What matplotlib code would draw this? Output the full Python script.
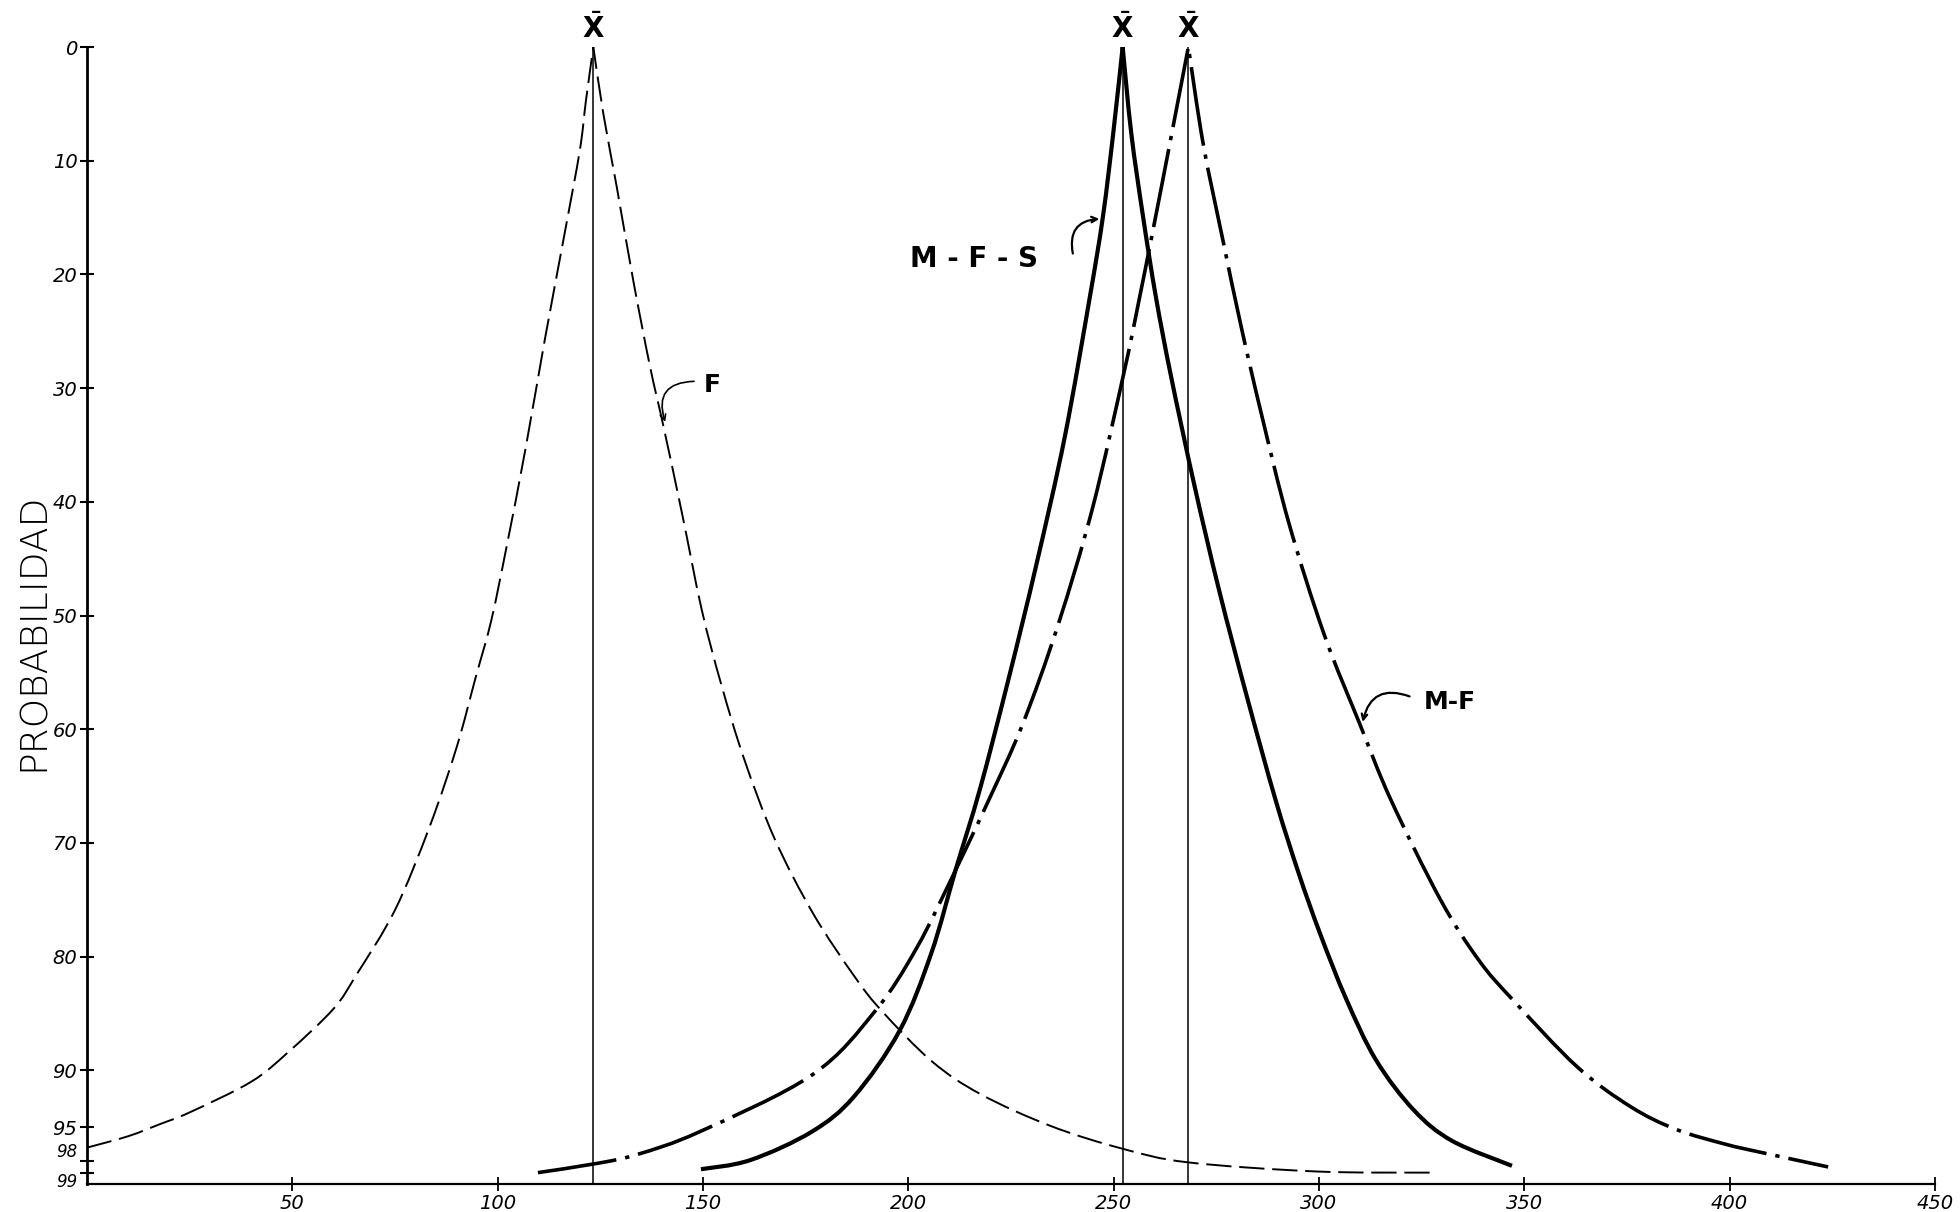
import matplotlib
matplotlib.use("Agg")
import matplotlib.pyplot as plt
from matplotlib.path import Path
from matplotlib.patches import PathPatch

# curve F (dashed): x value, probability
f_x = [0, 10, 18, 25, 40, 49, 60, 65.6, 75, 83.4, 90, 94.6, 98.4, 102.2, 106.8,
       111.5, 116.2, 120, 121.5, 123.3, 125.7, 129, 133, 137.1, 140.4, 145, 149.7,
       154.4, 160, 167.4, 176.8, 187, 193.6, 205.7, 217.6, 234.7, 252.2, 268.2, 299.5, 327]
f_p = [96.8, 95.8, 94.7, 93.7, 91.0, 88.4, 84.6, 81.6, 75.9, 68.6, 61.6, 55.5, 50.5, 43.9, 35.3,
       25.7, 16.6, 9.1, 4.7, 0, 5.8, 12.3, 20.5, 28.1, 33.4, 41.2, 49.5,
       56, 62.6, 69.6, 76.2, 81.8, 84.8, 89.2, 92.1, 94.9, 96.9, 98.1, 98.9, 99.0]

# curve M-F-S (solid)
mfs_x = [149.5, 161.5, 176.5, 186.8, 197.9, 205.6, 211.5, 217.5, 224.4, 231.2, 238.1, 244.2,
         247.4, 249.9, 252.2, 254.3, 257.2, 260.3, 264, 269.7, 275.7, 282.5, 289.5, 295,
         300.3, 306.6, 313.9, 323.1, 332.4, 347]
mfs_p = [98.7, 97.9, 95.4, 92.3, 86.5, 79.7, 72.4, 65.2, 55.6, 45.5, 34.3, 22,
         14.9, 7.6, 0, 7.6, 15, 22, 29, 38.6, 47.8, 57.2, 66.3, 72.6,
         78, 83.7, 89.1, 93.5, 96.2, 98.4]

# curve M-F (dash-dot)
mf_x = [109.8, 124, 134, 149.2, 176.6, 191.9, 202.1, 211.5, 219.5, 227.8, 236.4, 244.9,
        252.6, 256, 259.7, 264, 268.2, 271.8, 276.5, 281, 286, 292.7, 301.3, 309.9,
        317.5, 329.6, 338.9, 347.2, 362.9, 375.9, 387, 399, 407.4, 424]
mf_p = [99.0, 98.2, 97.4, 95.4, 90.4, 84.8, 79.2, 72.4, 66.3, 59.6, 50.9, 40.5,
        28.5, 22.6, 15.9, 7.9, 0, 8.5, 16.8, 24.5, 32.3, 41.9, 51.7, 59.5,
        66.2, 75, 80.3, 83.8, 89.7, 93.2, 95.2, 96.5, 97.2, 98.5]

means = [123.3, 252.2, 268.2]

y_ticks = [0, 10, 20, 30, 40, 50, 60, 70, 80, 90, 95, 98, 99]
x_ticks = [50, 100, 150, 200, 250, 300, 350, 400, 450]


def smooth_path(xs, ys):
    # smooth curve through the read points, each side of the peak on its own
    peak = ys.index(min(ys))
    verts = [(xs[0], ys[0])]
    codes = [Path.MOVETO]
    for lo, hi in [(0, peak), (peak, len(xs) - 1)]:
        pts = list(zip(xs[lo:hi + 1], ys[lo:hi + 1]))
        n = len(pts)
        for i in range(n - 1):
            p0 = pts[max(i - 1, 0)]
            p1 = pts[i]
            p2 = pts[i + 1]
            p3 = pts[min(i + 2, n - 1)]
            c1 = (p1[0] + (p2[0] - p0[0]) / 6, p1[1] + (p2[1] - p0[1]) / 6)
            c2 = (p2[0] - (p3[0] - p1[0]) / 6, p2[1] - (p3[1] - p1[1]) / 6)
            verts += [c1, c2, p2]
            codes += [Path.CURVE4] * 3
    return Path(verts, codes)


fig = plt.figure(figsize=(19.6, 12.12), dpi=100)
ax = fig.add_axes([0.0444, 0.0231, 0.9428, 0.9381])

ax.add_patch(PathPatch(smooth_path(f_x, f_p), fill=False, edgecolor="black",
                       linewidth=1.4, linestyle=(0, (13, 4))))
ax.add_patch(PathPatch(smooth_path(mfs_x, mfs_p), fill=False, edgecolor="black",
                       linewidth=3.0))
ax.add_patch(PathPatch(smooth_path(mf_x, mf_p), fill=False, edgecolor="black",
                       linewidth=2.6, linestyle=(0, (22, 2.5, 1.2, 2.5))))

for m in means:
    ax.vlines(m, 0, 100, color="black", linewidth=1.1)
    ax.text(m, -0.3, r"$\bar{\mathbf{X}}$", ha="center", va="bottom", fontsize=20,
            clip_on=False)

# hand labels with curly arrows
ax.text(150.2, 29.7, "F", fontsize=18, fontweight="semibold", ha="left", va="center")
ax.annotate("", xy=(141, 33.2), xytext=(148.5, 29.4),
            arrowprops=dict(arrowstyle="->", lw=1.2, connectionstyle="arc3,rad=0.7"))
ax.text(200.5, 18.6, "M - F - S", fontsize=20, fontweight="semibold", ha="left", va="center")
ax.annotate("", xy=(247.2, 15.1), xytext=(240.2, 18.4),
            arrowprops=dict(arrowstyle="->", lw=1.6, connectionstyle="arc3,rad=-0.6"))
ax.text(325.5, 57.6, "M-F", fontsize=18, fontweight="semibold", ha="left", va="center")
ax.annotate("", xy=(310.5, 59.6), xytext=(322.7, 57.2),
            arrowprops=dict(arrowstyle="->", lw=1.6, connectionstyle="arc3,rad=0.6"))

ax.set_xlim(0, 450)
ax.set_ylim(100, 0)
ax.spines["top"].set_visible(False)
ax.spines["right"].set_visible(False)
ax.spines["left"].set_linewidth(2.0)
ax.spines["bottom"].set_linewidth(1.6)

ax.set_yticks(y_ticks)
ax.set_yticklabels([str(v) for v in y_ticks], fontsize=14, fontstyle="italic")
for lbl in ax.get_yticklabels():
    if lbl.get_text() == "98":
        lbl.set_fontsize(12)
        lbl.set_va("bottom")
    elif lbl.get_text() == "99":
        lbl.set_fontsize(12)
        lbl.set_va("top")
ax.set_xticks(x_ticks)
ax.set_xticklabels([str(v) for v in x_ticks], fontsize=14, fontstyle="italic")
ax.tick_params(axis="y", direction="inout", length=10, width=1.5, pad=2)
ax.tick_params(axis="x", direction="inout", length=10, width=1.3, pad=2)

fig.text(0.0168, 0.479, "PROBABILIDAD", rotation=90, ha="center", va="center",
         fontsize=27, fontweight="light")

plt.savefig("out.png", dpi=100)
